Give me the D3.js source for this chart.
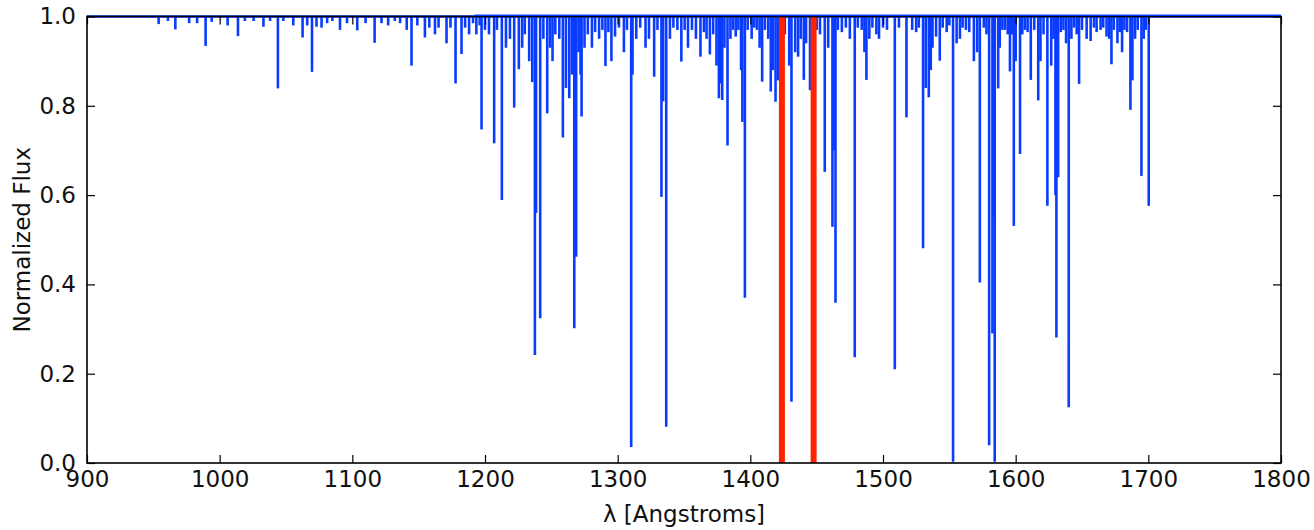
<!DOCTYPE html>
<html><head><meta charset="utf-8">
<script src="https://cdn.jsdelivr.net/npm/d3@7"></script>
<style>
body{margin:0;background:#fff;}
text{font-family:"DejaVu Sans",sans-serif;}
</style>
</head><body>
<svg id="chart" width="1314" height="530"></svg>
<script>
// ---- data ----
const xTickValues = [900, 1000, 1100, 1200, 1300, 1400, 1500, 1600, 1700, 1800];
const yTickValues = [0.0, 0.2, 0.4, 0.6, 0.8, 1.0];
const continuumRange = [900, 1800];
const noisyContinuumRange = [1192, 1800];   // part of the continuum that rides slightly above 1.0
const markerWavelengths = [1423.8, 1447.7];

// absorption lines: wavelength [Angstrom] and minimum normalized flux
const lineWavelengths = [
  954,961,966.6,977,983,989.4,994,1006,1013.8,1019,1025.6,1033,1038,1043.9,1048,1055.5,1062.5,1066,1069.6,1073,
  1076.8,1081,1085,1090.7,1096,1103.7,1110,1116.8,1122,1127,1132,1136,1141,1144.6,1149,1154.7,1158,1162.3,1165,1171,
  1174,1177.8,1182.3,1185,1188,1191,1193.5,1196,
  1197.4,1200,1203,1206.9,1209,1212.7,1215.8,1218.8,1222,1225.5,1228,1230,1233.3,1235.6,1237.6,1238.5,1241.6,1244,
  1246.9,1249,1250.9,1253,1256,1258.7,1261,1263.5,1265.5,1267.3,1268.7,1270.5,1272,1272.8,1275,1277.5,1280.6,1283,
  1286,1288.5,1290.8,1293,1295.3,1298,1301,
  1304.7,1307,1310.2,1311.2,1314,1317,1321,1323.6,1327.5,1330,1333,1334.3,1336.6,1339.4,1342,1345,1348,1350.5,1353,
  1356,1359,1362.4,1365,1367,1369.5,1372,1374.5,1376.3,1377.5,1378.8,1380.5,1382.8,1385,1387,1389,1391,1393,1394,
  1395.9,1398,
  1401,1403,1405,1407,1408.9,1411,1413.5,1415.4,1417,1419,1420.7,1422.5,1426,1429.3,1431,1433.8,1436,1438,1440.3,
  1442,1445,1450,1452.5,1456.1,1458.7,1461.9,1463,1464.2,1466,1469,1472,1475,1478.7,1481,1484,1486,1487.5,1489.7,
  1492,1495,1497,1500,1503,1508.9,
  1512,1517.7,1522,1525,1527,1530.2,1532.2,1534.5,1536,1537.3,1540,1542.8,1545,1548,1550,1552.8,1555.5,1558,1560,
  1562.5,1565,1568.5,1571,1573,1576,1578,1580,1582.5,1583.3,1584.2,1586.8,1588,1590,1592,1594,1595.7,1597,1598.6,1600,
  1603.3,1605,1607,1609,1611.4,1614,1617,1618.7,1621,1623.9,1626.8,1628.5,1630,1630.7,1632,1634,1636,1638,1640,1642,
  1644,1646,1647.8,1650,1653.5,1656.5,1659,1661,1664,1666,1668.5,1670.5,1672.2,1674,1676.7,1678.5,1680.2,1682,1684,
  1686.5,1688,1690,1692,1694.8,1696.5,1698,1700.3
];
const lineMinFlux = [
  0.983,0.99,0.971,0.985,0.985,0.934,0.988,0.98,0.956,0.99,0.99,0.977,0.99,0.839,0.99,0.98,0.953,0.98,0.876,0.977,
  0.975,0.985,0.99,0.97,0.985,0.969,0.985,0.941,0.985,0.98,0.99,0.985,0.97,0.89,0.98,0.953,0.975,0.96,0.975,0.94,
  0.975,0.85,0.916,0.975,0.96,0.985,0.96,0.98,
  0.747,0.97,0.96,0.716,0.97,0.589,0.93,0.95,0.796,0.882,0.93,0.96,0.90,0.853,0.242,0.56,0.324,0.95,
  0.783,0.93,0.90,0.96,0.95,0.729,0.84,0.817,0.87,0.302,0.462,0.92,0.87,0.776,0.93,0.96,0.93,0.965,
  0.95,0.97,0.889,0.965,0.90,0.955,0.975,
  0.92,0.97,0.036,0.87,0.95,0.975,0.93,0.95,0.865,0.97,0.596,0.81,0.081,0.95,0.975,0.97,0.899,0.97,0.93,
  0.97,0.95,0.91,0.965,0.95,0.915,0.96,0.89,0.817,0.85,0.813,0.93,0.711,0.95,0.97,0.955,0.97,0.88,0.764,
  0.37,0.97,
  0.95,0.975,0.97,0.93,0.854,0.97,0.95,0.832,0.88,0.809,0.857,0.90,0.96,0.89,0.137,0.92,0.91,0.95,0.858,
  0.94,0.835,0.97,0.96,0.652,0.93,0.529,0.70,0.359,0.97,0.965,0.975,0.95,0.237,0.975,0.97,0.92,0.858,0.95,
  0.975,0.96,0.95,0.975,0.97,0.21,
  0.975,0.774,0.97,0.965,0.975,0.481,0.84,0.819,0.88,0.93,0.955,0.901,0.975,0.965,0.98,0.003,0.94,0.95,0.975,
  0.97,0.965,0.90,0.92,0.404,0.975,0.96,0.04,0.29,0.55,0.003,0.839,0.93,0.97,0.97,0.96,0.877,0.96,0.531,0.90,
  0.692,0.96,0.97,0.965,0.858,0.97,0.812,0.90,0.96,0.576,0.89,0.95,0.60,0.281,0.64,0.965,0.97,0.94,0.125,0.95,
  0.975,0.96,0.849,0.97,0.95,0.945,0.975,0.965,0.97,0.975,0.955,0.95,0.893,0.97,0.94,0.965,0.92,0.97,0.965,
  0.791,0.857,0.95,0.97,0.643,0.95,0.97,0.576
];

// ---- layout ----
const W = 1314, H = 530;
const plotLeft = 87, plotRight = 1281, plotTop = 16.5, plotBottom = 463;
const blue = "#0a3cff", red = "#ff2400";
const fontSize = 23;

const svg = d3.select("#chart");
svg.append("rect").attr("width", W).attr("height", H).attr("fill", "#fff");

const x = d3.scaleLinear().domain([900, 1800]).range([plotLeft, plotRight]);
const y = d3.scaleLinear().domain([0, 1]).range([plotBottom, plotTop]);

const lines = lineWavelengths.map((w, i) => ({w, f: lineMinFlux[i]}));

// continuum
svg.append("line")
  .attr("x1", x(continuumRange[0])).attr("x2", x(continuumRange[1]))
  .attr("y1", y(1)).attr("y2", y(1))
  .attr("stroke", blue).attr("stroke-width", 2.6);

// absorption lines
svg.append("g").selectAll("line").data(lines).join("line")
  .attr("x1", d => x(d.w)).attr("x2", d => x(d.w))
  .attr("y1", y(1)).attr("y2", d => y(d.f))
  .attr("stroke", blue).attr("stroke-width", 2.6).attr("stroke-linecap", "butt");

// red markers
svg.append("g").selectAll("line").data(markerWavelengths).join("line")
  .attr("x1", d => x(d)).attr("x2", d => x(d))
  .attr("y1", y(0)).attr("y2", y(1))
  .attr("stroke", red).attr("stroke-width", 6);

// axes (ticks inward on all four sides)
const tickLen = 8;
function styleAxis(g, hideLabels) {
  g.select(".domain").remove();
  g.selectAll(".tick line").attr("stroke", "#000").attr("stroke-width", 1.2);
  g.selectAll(".tick text").attr("font-size", fontSize).attr("fill", "#111")
    .attr("font-family", "DejaVu Sans, sans-serif");
  if (hideLabels) g.selectAll(".tick text").remove();
}
svg.append("g").attr("transform", `translate(0,${plotBottom})`)
  .call(d3.axisBottom(x).tickValues(xTickValues).tickFormat(d3.format("d")).tickSizeInner(-tickLen).tickSizeOuter(0).tickPadding(8))
  .call(g => styleAxis(g, false));
svg.append("g").attr("transform", `translate(0,${plotTop})`)
  .call(d3.axisTop(x).tickValues(xTickValues).tickSizeInner(-tickLen).tickSizeOuter(0))
  .call(g => styleAxis(g, true));
svg.append("g").attr("transform", `translate(${plotLeft},0)`)
  .call(d3.axisLeft(y).tickValues(yTickValues).tickFormat(d3.format(".1f")).tickSizeInner(-tickLen).tickSizeOuter(0).tickPadding(11))
  .call(g => styleAxis(g, false));
svg.append("g").attr("transform", `translate(${plotRight},0)`)
  .call(d3.axisRight(y).tickValues(yTickValues).tickSizeInner(-tickLen).tickSizeOuter(0))
  .call(g => styleAxis(g, true));

// frame
svg.append("rect")
  .attr("x", plotLeft).attr("y", plotTop)
  .attr("width", plotRight - plotLeft).attr("height", plotBottom - plotTop)
  .attr("fill", "none").attr("stroke", "#000").attr("stroke-width", 1.6);

// continuum portion that sits just above the top spine
svg.append("line")
  .attr("x1", x(noisyContinuumRange[0])).attr("x2", x(noisyContinuumRange[1]))
  .attr("y1", y(1) - 1.2).attr("y2", y(1) - 1.2)
  .attr("stroke", blue).attr("stroke-width", 1.6);

// axis titles
svg.append("text").attr("x", (plotLeft + plotRight) / 2).attr("y", 522)
  .attr("text-anchor", "middle").attr("font-size", fontSize).attr("fill", "#111")
  .text("λ [Angstroms]");
svg.append("text").attr("transform", `translate(30,${(plotTop + plotBottom) / 2}) rotate(-90)`)
  .attr("text-anchor", "middle").attr("font-size", fontSize).attr("fill", "#111")
  .text("Normalized Flux");
</script>
</body></html>
